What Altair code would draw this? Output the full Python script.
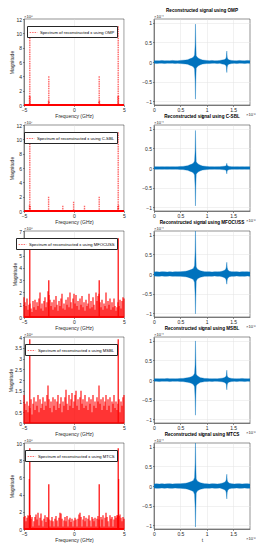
import altair as alt
import pandas as pd
import numpy as np

METHODS = ["OMP", "C-SBL", "MFOCUSS", "MSBL", "MTCS"]
LEGEND_TEXT = ["Spectrum of reconstructed x using " + m for m in METHODS]
TITLES = ["Reconstructed signal using " + m for m in METHODS]

SPEC_EXP = ["×10⁸", "×10⁷", "×10⁸", "×10⁸", "×10⁸"]
SPEC_YMAX = [12, 12, 7, 4, 10]
SPEC_TICKS = [
    [0, 2, 4, 6, 8, 10, 12],
    [0, 2, 4, 6, 8, 10, 12],
    [0, 1, 2, 3, 4, 5, 6, 7],
    [0, 0.5, 1, 1.5, 2, 2.5, 3, 3.5, 4],
    [0, 2, 4, 6, 8, 10],
]
FREQ_TICKS = [-5, 0, 5]

# dominant spectral lines (GHz, magnitude in axis units)
PEAK_F = [
    [-4.45, -4.42, -4.39, -2.55, -2.52, -2.49, 2.49, 2.52, 2.55, 4.39, 4.42, 4.45],
    [-4.45, -4.42, -4.39, -2.54, -1.12, -0.04, 1.05, 2.52, 4.39, 4.42, 4.45],
    [-4.42, -2.52, 2.52, 4.42],
    [-4.42, 4.42],
    [-4.46, -4.42, -4.38, -2.52, 2.52, 4.38, 4.42, 4.46],
]
PEAK_M = [
    [1.3, 11.0, 1.2, 0.6, 4.0, 0.5, 0.5, 4.0, 0.6, 1.2, 11.0, 1.3],
    [0.8, 11.0, 0.7, 2.0, 0.75, 1.3, 0.75, 2.0, 0.7, 11.0, 0.8],
    [6.4, 3.0, 3.0, 6.4],
    [3.9, 3.9],
    [5.8, 9.4, 1.6, 5.2, 5.2, 1.6, 9.4, 5.8],
]

# spectral floor on 0.1 GHz bins from -5 to 5
FREQ_BINS = np.round(np.linspace(-5, 5, 101), 2)
NOISE_MFOCUSS = [
    1.6, 1.2, 0.9, 1.5, 0.6, 1.0, 1.1, 0.7, 0.4, 1.3,
    0.8, 1.4, 0.6, 1.2, 0.9, 1.5, 2.0, 0.7, 1.1, 0.5,
    1.3, 1.6, 0.8, 1.2, 2.1, 1.8, 1.4, 0.9, 1.2, 0.6,
    1.4, 0.8, 1.7, 1.0, 0.5, 1.3, 0.9, 1.5, 1.9, 0.7,
    1.1, 0.6, 1.4, 1.0, 1.6, 0.8, 2.0, 1.2, 0.7, 1.5,
    1.9, 1.1, 1.8, 0.9, 1.3, 0.6, 1.5, 1.0, 1.7, 0.8,
    1.2, 0.5, 1.4, 0.9, 1.1, 1.9, 0.7, 1.3, 0.8, 1.6,
    1.0, 0.6, 2.0, 1.3, 1.7, 1.9, 1.2, 0.8, 1.4, 0.6,
    1.1, 0.9, 2.0, 0.7, 1.3, 1.0, 1.5, 0.6, 1.2, 0.8,
    1.5, 0.9, 0.5, 0.8, 1.2, 0.9, 1.4, 0.7, 1.3, 1.6, 1.5,
]
NOISE_MSBL = [
    1.3, 0.9, 0.6, 1.0, 0.5, 0.8, 0.7, 1.1, 0.4, 0.9,
    1.2, 0.6, 1.0, 0.8, 1.3, 0.5, 1.1, 0.7, 0.9, 1.2,
    0.6, 1.0, 0.8, 1.3, 1.75, 1.1, 0.7, 1.0, 0.5, 1.2,
    0.8, 1.1, 0.6, 1.0, 1.3, 0.7, 0.9, 1.2, 0.5, 1.0,
    0.8, 1.2, 1.55, 0.9, 0.6, 1.3, 0.8, 1.1, 1.4, 0.7,
    1.0, 1.3, 1.5, 0.8, 1.1, 0.6, 1.2, 1.5, 0.9, 1.1,
    0.7, 1.3, 0.8, 1.0, 0.6, 1.2, 0.9, 1.1, 0.5, 1.3,
    0.8, 1.0, 0.7, 1.2, 1.0, 1.75, 0.9, 1.1, 0.6, 1.2,
    0.8, 1.0, 1.3, 0.6, 1.1, 0.8, 1.2, 0.5, 1.0, 0.9,
    1.3, 0.7, 1.0, 0.6, 0.9, 1.1, 0.5, 1.0, 0.8, 1.2, 1.3,
]
NOISE_MTCS = [
    1.4, 1.5, 0.9, 1.3, 1.6, 1.5, 1.6, 1.2, 1.4, 0.3,
    0.9, 1.4, 1.7, 1.1, 1.9, 0.4, 1.3, 1.8, 1.0, 0.3,
    1.2, 1.6, 0.8, 1.4, 1.3, 1.1, 0.3, 1.0, 1.4, 0.9,
    0.3, 1.2, 1.5, 1.0, 0.3, 1.3, 1.9, 1.8, 1.2, 0.3,
    1.0, 1.4, 0.9, 1.5, 0.3, 1.1, 1.3, 0.8, 1.2, 0.3,
    1.0, 1.3, 1.1, 0.3, 1.2, 1.7, 1.9, 1.4, 0.3, 1.1,
    1.5, 0.9, 1.3, 0.3, 1.2, 1.6, 1.0, 0.3, 1.4, 1.2,
    0.9, 1.3, 0.3, 1.2, 1.5, 1.1, 0.3, 1.4, 1.1, 1.6,
    0.3, 1.3, 1.9, 1.4, 0.9, 0.3, 1.6, 1.2, 1.4, 0.3,
    1.1, 1.5, 1.3, 1.6, 1.4, 1.5, 1.7, 1.3, 0.9, 1.4, 1.2,
]
NOISE = [None, None, NOISE_MFOCUSS, NOISE_MSBL, NOISE_MTCS]

# reconstructed signal envelope (time x1e-6, amplitude x1e-4)
SIG_EXP = "×10⁻⁴"
T_EXP = "×10⁻⁶"
T_TICKS = [0, 0.5, 1, 1.5]
A_TICKS = [-1, -0.5, 0, 0.5, 1]
T = [0.00, 0.05, 0.10, 0.15, 0.20, 0.25, 0.30, 0.35, 0.40, 0.45, 0.50, 0.55,
     0.60, 0.64, 0.68, 0.72, 0.75, 0.77, 0.780, 0.786, 0.792, 0.80, 0.82, 0.85,
     0.88, 0.92, 0.96, 1.00, 1.05, 1.10, 1.15, 1.20, 1.25, 1.29, 1.33, 1.36,
     1.372, 1.380, 1.388, 1.40, 1.43, 1.47, 1.52, 1.57, 1.62, 1.67, 1.72, 1.77, 1.82]
SIG_UP = [
    [0.03, 0.035, 0.03, 0.04, 0.03, 0.035, 0.03, 0.04, 0.035, 0.03, 0.04, 0.045, 0.05, 0.06, 0.08, 0.10, 0.13, 0.18, 0.45, 0.97, 0.50, 0.16, 0.12, 0.09, 0.07, 0.05, 0.045, 0.04, 0.035, 0.04, 0.03, 0.035, 0.04, 0.05, 0.06, 0.08, 0.13, 0.28, 0.12, 0.07, 0.05, 0.04, 0.035, 0.03, 0.04, 0.035, 0.03, 0.04, 0.035],
    [0.03, 0.035, 0.03, 0.035, 0.03, 0.035, 0.03, 0.035, 0.03, 0.035, 0.04, 0.04, 0.05, 0.06, 0.08, 0.10, 0.13, 0.18, 0.45, 0.96, 0.50, 0.16, 0.12, 0.09, 0.07, 0.05, 0.045, 0.04, 0.035, 0.035, 0.03, 0.035, 0.035, 0.04, 0.045, 0.05, 0.07, 0.12, 0.07, 0.05, 0.04, 0.035, 0.03, 0.035, 0.03, 0.035, 0.03, 0.035, 0.03],
    [0.05, 0.06, 0.05, 0.06, 0.055, 0.05, 0.06, 0.05, 0.06, 0.055, 0.06, 0.065, 0.07, 0.08, 0.10, 0.12, 0.15, 0.22, 0.60, 1.15, 0.55, 0.18, 0.13, 0.10, 0.08, 0.07, 0.06, 0.055, 0.06, 0.05, 0.06, 0.055, 0.06, 0.07, 0.09, 0.12, 0.18, 0.30, 0.16, 0.10, 0.07, 0.06, 0.055, 0.06, 0.05, 0.06, 0.055, 0.06, 0.05],
    [0.03, 0.035, 0.03, 0.035, 0.03, 0.04, 0.03, 0.035, 0.03, 0.035, 0.04, 0.04, 0.05, 0.06, 0.07, 0.09, 0.12, 0.17, 0.40, 1.00, 0.55, 0.15, 0.11, 0.08, 0.06, 0.05, 0.04, 0.04, 0.035, 0.03, 0.035, 0.03, 0.04, 0.045, 0.06, 0.08, 0.12, 0.25, 0.11, 0.07, 0.05, 0.04, 0.035, 0.03, 0.035, 0.04, 0.035, 0.03, 0.035],
    [0.05, 0.055, 0.05, 0.06, 0.05, 0.055, 0.06, 0.05, 0.055, 0.06, 0.06, 0.065, 0.07, 0.08, 0.10, 0.12, 0.15, 0.22, 0.60, 1.15, 0.55, 0.18, 0.13, 0.10, 0.08, 0.07, 0.06, 0.055, 0.05, 0.06, 0.055, 0.05, 0.06, 0.07, 0.09, 0.12, 0.17, 0.30, 0.15, 0.10, 0.07, 0.06, 0.05, 0.055, 0.06, 0.05, 0.055, 0.06, 0.05],
]
SIG_LO = [
    [-0.03, -0.04, -0.035, -0.03, -0.04, -0.03, -0.035, -0.03, -0.04, -0.035, -0.04, -0.045, -0.05, -0.06, -0.08, -0.10, -0.13, -0.18, -0.50, -0.95, -0.45, -0.16, -0.12, -0.09, -0.07, -0.05, -0.045, -0.04, -0.04, -0.035, -0.03, -0.04, -0.035, -0.05, -0.06, -0.08, -0.12, -0.27, -0.13, -0.07, -0.05, -0.04, -0.035, -0.04, -0.03, -0.035, -0.04, -0.03, -0.035],
    [-0.03, -0.035, -0.03, -0.035, -0.03, -0.035, -0.03, -0.035, -0.03, -0.035, -0.04, -0.04, -0.05, -0.06, -0.08, -0.10, -0.13, -0.18, -0.50, -0.97, -0.45, -0.16, -0.12, -0.09, -0.07, -0.05, -0.045, -0.04, -0.035, -0.035, -0.03, -0.035, -0.035, -0.04, -0.045, -0.05, -0.08, -0.15, -0.07, -0.05, -0.04, -0.035, -0.03, -0.035, -0.03, -0.035, -0.03, -0.035, -0.03],
    [-0.05, -0.055, -0.06, -0.05, -0.06, -0.055, -0.05, -0.06, -0.055, -0.06, -0.06, -0.065, -0.07, -0.08, -0.10, -0.12, -0.15, -0.22, -0.55, -1.02, -0.60, -0.18, -0.13, -0.10, -0.08, -0.07, -0.06, -0.06, -0.055, -0.06, -0.05, -0.06, -0.055, -0.07, -0.09, -0.12, -0.17, -0.26, -0.15, -0.10, -0.07, -0.06, -0.06, -0.05, -0.06, -0.055, -0.06, -0.05, -0.06],
    [-0.03, -0.035, -0.04, -0.03, -0.035, -0.03, -0.04, -0.03, -0.035, -0.03, -0.04, -0.04, -0.05, -0.06, -0.07, -0.09, -0.12, -0.17, -0.50, -0.90, -0.40, -0.15, -0.11, -0.08, -0.06, -0.05, -0.04, -0.04, -0.035, -0.04, -0.03, -0.035, -0.04, -0.045, -0.06, -0.08, -0.12, -0.25, -0.12, -0.07, -0.05, -0.04, -0.035, -0.04, -0.03, -0.035, -0.04, -0.03, -0.035],
    [-0.05, -0.06, -0.055, -0.05, -0.06, -0.05, -0.055, -0.06, -0.05, -0.055, -0.06, -0.065, -0.07, -0.08, -0.10, -0.12, -0.15, -0.22, -0.55, -1.05, -0.60, -0.18, -0.13, -0.10, -0.08, -0.07, -0.06, -0.055, -0.06, -0.05, -0.06, -0.055, -0.05, -0.07, -0.09, -0.12, -0.18, -0.33, -0.16, -0.10, -0.07, -0.06, -0.055, -0.05, -0.06, -0.055, -0.05, -0.06, -0.055],
]

LW, RW, H = 100, 96, 86
FONT = "Liberation Sans"
RED = "#ff0000"
BLUE = "#0072BD"
NUMFMT = "~r"


def spectrum(i):
    xsc = alt.Scale(domain=[-5, 5], nice=False, zero=False)
    ysc = alt.Scale(domain=[0, SPEC_YMAX[i]], nice=False)
    xax = alt.Axis(values=FREQ_TICKS, title="Frequency (GHz)", format=NUMFMT)
    yax = alt.Axis(values=SPEC_TICKS[i], title="Magnitude", format=NUMFMT)
    xenc = alt.X("f:Q", scale=xsc, axis=xax)
    yenc = alt.Y("m:Q", scale=ysc, axis=yax)
    col = alt.Color(
        "series:N",
        scale=alt.Scale(domain=[LEGEND_TEXT[i]], range=[RED]),
        legend=alt.Legend(
            title=None, orient="top-right", offset=7, fillColor="white",
            strokeColor="#262626", padding=2, labelFontSize=4.2, labelFont=FONT,
            labelLimit=300, labelOffset=2, symbolType="stroke", symbolStrokeWidth=0.8,
            symbolDash=[1.5, 1], symbolSize=60, labelColor="black", symbolOpacity=0.7,
        ),
    )
    pk = pd.DataFrame({"f": PEAK_F[i], "m": PEAK_M[i], "series": LEGEND_TEXT[i]})
    layers = [
        alt.Chart(pk).mark_rule(color=RED, strokeWidth=0.8).encode(
            y=alt.YDatum(0, scale=ysc, axis=yax)),
    ]
    if NOISE[i] is not None:
        nz = pd.DataFrame({"f": FREQ_BINS, "m": NOISE[i], "series": LEGEND_TEXT[i]})
        layers.append(
            alt.Chart(nz).mark_rule(strokeWidth=1.1).encode(x=xenc, y=yenc, y2=alt.datum(0), color=col)
        )
        layers.append(
            alt.Chart(pk).mark_rule(strokeWidth=1.2).encode(x=xenc, y=yenc, y2=alt.datum(0), color=col)
        )
    else:
        layers.append(
            alt.Chart(pk).mark_rule(strokeWidth=1.4, strokeDash=[1.5, 0.8], opacity=0.6)
            .encode(x=xenc, y=yenc, y2=alt.datum(0), color=col)
        )
    ex = pd.DataFrame({"lab": [SPEC_EXP[i]]})
    layers.append(
        alt.Chart(ex).mark_text(align="left", baseline="bottom", fontSize=4.2, font=FONT, color="#262626")
        .encode(x=alt.value(0), y=alt.value(-0.5), text="lab:N")
    )
    return alt.layer(*layers).properties(width=LW, height=H)


def signal(i):
    df = pd.DataFrame({"t": T, "up": SIG_UP[i], "lo": SIG_LO[i]})
    xenc = alt.X("t:Q", scale=alt.Scale(domain=[0, 1.82], nice=False, zero=False),
                 axis=alt.Axis(values=T_TICKS, title="t", format=NUMFMT))
    ysc = alt.Scale(domain=[-1.1, 1.1], nice=False)
    yax = alt.Axis(values=A_TICKS, title=None, format=NUMFMT)
    area = alt.Chart(df).mark_area(color=BLUE, clip=True).encode(
        x=xenc, y=alt.Y("lo:Q", scale=ysc, axis=yax), y2="up:Q"
    )
    up_line = alt.Chart(df).mark_line(color=BLUE, strokeWidth=0.35, clip=True).encode(
        x=xenc, y=alt.Y("up:Q", scale=ysc, axis=yax))
    lo_line = alt.Chart(df).mark_line(color=BLUE, strokeWidth=0.35, clip=True).encode(
        x=xenc, y=alt.Y("lo:Q", scale=ysc, axis=yax))
    ex = pd.DataFrame({"lab": [SIG_EXP]})
    top_txt = alt.Chart(ex).mark_text(align="left", baseline="bottom", fontSize=4.2, font=FONT, color="#262626").encode(
        x=alt.value(0), y=alt.value(-0.5), text="lab:N")
    ex2 = pd.DataFrame({"lab": [T_EXP]})
    bot_txt = alt.Chart(ex2).mark_text(align="left", baseline="top", fontSize=4.2, font=FONT, color="#262626").encode(
        x=alt.value(RW - 4), y=alt.value(H + 8), text="lab:N")
    return alt.layer(area, up_line, lo_line, top_txt, bot_txt).properties(
        width=RW, height=H,
        title=alt.TitleParams(TITLES[i], fontSize=4.6, fontWeight="bold", font=FONT, offset=1.5, color="black"),
    )


panels = []
for i in range(5):
    panels.append(spectrum(i))
    panels.append(signal(i))

chart = (
    alt.concat(*panels, columns=2, spacing=alt.RowColnumber(row=20, column=30), bounds="flush", padding=0)
    .resolve_scale(color="independent", x="independent", y="independent")
    .resolve_legend(color="independent")
    .configure_view(stroke="#262626", strokeWidth=0.5)
    .configure_axis(
        labelFont=FONT, labelFontSize=5, labelColor="#262626", labelPadding=1, labelFlush=False,
        labelOverlap=False,
        titleFont=FONT, titleFontSize=5, titleFontWeight="normal", titleColor="#262626", titlePadding=1,
        domainColor="#262626", domainWidth=0.5, tickColor="#262626", tickSize=1.5, tickWidth=0.5,
        gridColor="#e2e2e2", gridWidth=0.5,
    )
)

chart.save("out.html", embed_options={"renderer": "svg", "actions": False})
